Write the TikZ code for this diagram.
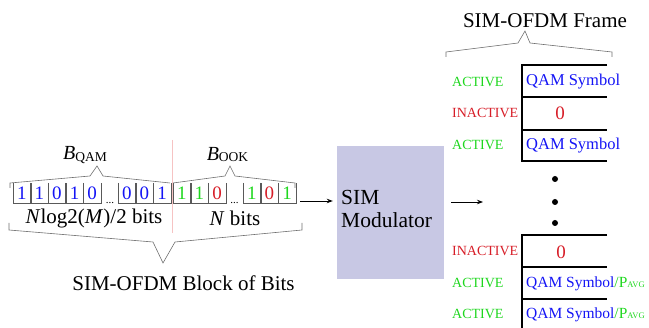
\documentclass[tikz,border=0pt]{standalone}
\usepackage{fontspec}
\setmainfont{Liberation Serif}
\usetikzlibrary{arrows.meta}
\definecolor{actgreen}{RGB}{30,215,30}
\definecolor{inred}{RGB}{215,30,40}
\definecolor{qblue}{RGB}{20,20,245}
\definecolor{boxfill}{RGB}{200,200,228}
\definecolor{bracegray}{RGB}{110,110,110}
\definecolor{pinkline}{RGB}{246,195,195}
\begin{document}
\begin{tikzpicture}[x=1pt,y=-1pt,
  cell/.style={minimum width=17.6pt, minimum height=20pt, inner sep=0pt, font=\fontsize{19}{19}\selectfont},
  cellline/.style={draw=black!65, line width=0.6pt},
  bracepath/.style={draw=bracegray, line width=0.6pt},
  frameline/.style={line width=2.8pt},
  tag/.style={anchor=west, inner sep=0pt, font=\fontsize{14}{14}\selectfont},
  sym/.style={anchor=west, inner sep=0pt, font=\fontsize{16.5}{16.5}\selectfont, text=qblue},
  symp/.style={anchor=west, inner sep=0pt, font=\fontsize{15.5}{15.5}\selectfont, text=qblue},
  zero/.style={inner sep=0pt, font=\fontsize{19}{19}\selectfont, text=inred},
  big/.style={inner sep=0pt, font=\fontsize{21}{21}\selectfont},
  arr/.style={-{Stealth[length=6pt,width=4.5pt]}, line width=0.9pt},
  framedot/.style={fill=black, draw=none}
]
\useasboundingbox (0,0) rectangle (649,328);

% ---------- bit cells ----------
\foreach \x/\b/\c [count=\i] in {13/1/qblue, 30.6/1/qblue, 48.2/0/qblue, 65.8/1/qblue, 83.4/0/qblue,
                                 118/0/qblue, 135.6/0/qblue, 153.2/1/qblue,
                                 173/1/actgreen, 190.6/1/actgreen, 208.2/0/inred,
                                 243/1/actgreen, 260.6/0/inred, 278.2/1/actgreen} {
  \node[cell, text=\c] (c\i) at (\x+8.8,193) {\raisebox{-2pt}{\b}};
  \draw[cellline] (c\i.north west) |- (c\i.south east) -- (c\i.north east);
}
\node[inner sep=0pt, anchor=south, font=\fontsize{11}{11}\selectfont] (dots1) at (110,204) {...};
\node[inner sep=0pt, anchor=south, font=\fontsize{11}{11}\selectfont] (dots2) at (234.5,204) {...};

% separator
\draw[pinkline, line width=0.6pt] (172,140) -- (172,233);

% braces above bit groups
\draw[bracepath] (10,188) -- (10,183) -- (90,176) -- (97,166) -- (103,176) -- (170,183);
\draw[bracepath] (173,183) -- (225,176) -- (230,166) -- (235,176) -- (295,183) -- (295,188);
\node[inner sep=0pt] (bqam) at (85,155) {{\fontsize{20}{20}\selectfont\itshape B}{\fontsize{13.5}{14}\selectfont\raisebox{-2pt}{QAM}}};
\node[inner sep=0pt] (book) at (227.5,155) {{\fontsize{20}{20}\selectfont\itshape B}{\fontsize{13.5}{14}\selectfont\raisebox{-1pt}{OOK}}};

% bit counts
\node[big] (nqam) at (94,218) {\textit{N}log2(\textit{M})/2 bits};
\node[big] (nook) at (235,218) {\textit{N} bits};

% brace below
\draw[bracepath] (9,223) -- (9,230) -- (153,242) -- (163,263) -- (175,242) -- (302,230) -- (302,223);
\node[big] (blk) at (183.5,283) {SIM-OFDM Block of Bits};

% modulator
\node[fill=boxfill, minimum width=107pt, minimum height=133pt, inner sep=0pt] (box) at (390.5,212.5) {};
\node[inner sep=0pt, anchor=west, align=left, font=\fontsize{21.5}{23}\selectfont] (boxtext) at (341,209) {SIM\\Modulator};

\coordinate (a1) at (300,201);
\coordinate (a2) at (483,202);
\draw[arr, shorten >=4pt] (a1) -- (a1 -| box.west);
\draw[arr, shorten <=7pt] (a2 -| box.east) -- (a2);

% frame title and brace
\node[big] (title) at (545,21) {SIM-OFDM Frame};
\draw[bracepath] (446,57) -- (446,52) -- (518,43) -- (525,31) -- (530,43) -- (612,52) -- (612,57);

% frame group 1
\draw[frameline] (607,65) -- (522,65) -- (522,161) -- (607,161);
\draw[frameline] (522,97) -- (607,97);
\draw[frameline] (522,130) -- (607,130);
\node[tag, text=actgreen] (t1) at (452,82) {ACTIVE};
\node[tag, text=inred] (t2) at (452,113) {INACTIVE};
\node[tag, text=actgreen] (t3) at (452,145) {ACTIVE};
\node[sym] (s1) at (526,82) {QAM Symbol};
\node[zero] (z1) at (560,113) {0};
\node[sym] (s3) at (526,146) {QAM Symbol};

% dots
\fill[framedot] (555,179) circle (3pt);
\fill[framedot] (555,202) circle (3pt);
\fill[framedot] (555,223) circle (3pt);

% frame group 2
\draw[frameline] (607,235) -- (522,235) -- (522,330);
\draw[frameline] (522,267) -- (607,267);
\draw[frameline] (522,299) -- (607,299);
\node[tag, text=inred] (t4) at (452,251) {INACTIVE};
\node[tag, text=actgreen] (t5) at (452,283) {ACTIVE};
\node[tag, text=actgreen] (t6) at (452,314) {ACTIVE};
\node[zero] (z2) at (561,252) {0};
\node[symp] (s5) at (526,284) {QAM Symbol\textcolor{actgreen}{/P{\fontsize{8.5}{8.5}\selectfont AVG}}};
\node[symp] (s6) at (526,315) {QAM Symbol\textcolor{actgreen}{/P{\fontsize{8.5}{8.5}\selectfont AVG}}};
\end{tikzpicture}
\end{document}
